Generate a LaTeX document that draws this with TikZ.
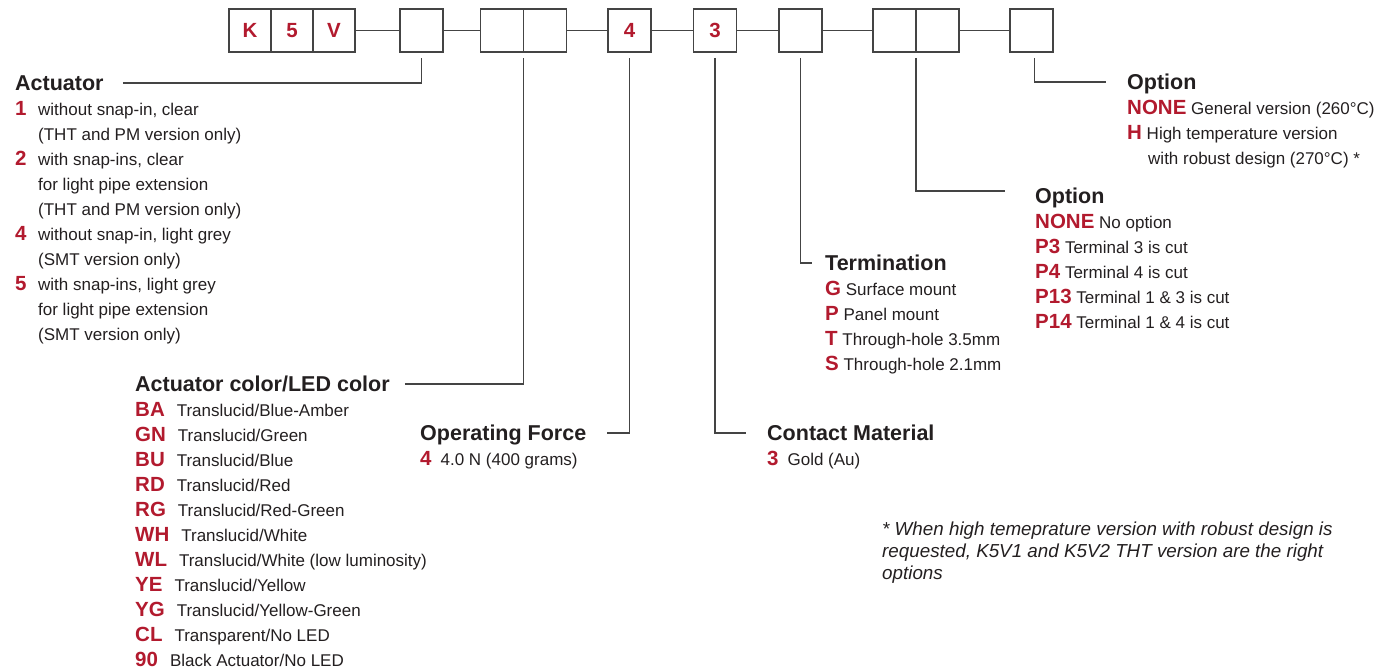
\documentclass[tikz,border=0pt]{standalone}
\usepackage{fontspec}
\setmainfont{Liberation Sans}
\usepackage{tikz}
\usetikzlibrary{positioning}
\definecolor{codered}{RGB}{178,26,46}
\definecolor{ink}{RGB}{35,31,32}
\definecolor{wire}{RGB}{68,68,68}
\newcommand{\cd}[1]{{\color{codered}\bfseries\fontsize{20.5}{25}\selectfont #1}}
\newcommand{\col}[1]{\makebox[23pt][l]{\cd{#1}}}
\tikzset{
  cell/.style   = {rectangle, draw=wire, line width=1.3pt, outer sep=0pt, inner sep=0pt,
                   minimum width=43pt, minimum height=43pt, text=codered,
                   font=\bfseries\fontsize{20.5}{24}\selectfont},
  head/.style   = {anchor=base west, inner sep=0pt, text height=15pt, text depth=0pt,
                   text=ink, font=\bfseries\fontsize{21.5}{25}\selectfont},
  list/.style   = {anchor=north west, inner sep=0pt, align=left, text=ink,
                   font=\fontsize{17}{25}\selectfont},
  note/.style   = {anchor=north west, inner sep=0pt, align=left, text=ink,
                   font=\itshape\fontsize{18.8}{22}\selectfont},
  link/.style   = {draw=wire, line width=1.2pt},
  leader/.style = {draw=wire, line width=1.2pt}
}
\begin{document}
\begin{tikzpicture}[x=1pt, y=-1pt]
	\useasboundingbox (0,0) rectangle (1388,671);

	% Part number boxes
	\node [cell, minimum width=42pt]                  (k)       at (250,30.5) {K};
	\node [cell, minimum width=42pt, right=0pt of k]  (five)    {5};
	\node [cell, minimum width=42pt, right=0pt of five] (v)     {V};
	\node [cell, right=45pt of v]                     (act)     {};
	\node [cell, right=37.5pt of act]                 (ledA)    {};
	\node [cell, right=0pt of ledA]                   (ledB)    {};
	\node [cell, right=41.5pt of ledB]                (force)   {4};
	\node [cell, right=42.5pt of force]               (contact) {3};
	\node [cell, right=42.5pt of contact]             (term)    {};
	\node [cell, right=51pt of term]                  (pinA)    {};
	\node [cell, right=0pt of pinA]                   (pinB)    {};
	\node [cell, right=51pt of pinB]                  (temp)    {};

	% Links between boxes
	\path [link] (v)       -- (act);
	\path [link] (act)     -- (ledA);
	\path [link] (ledB)    -- (force);
	\path [link] (force)   -- (contact);
	\path [link] (contact) -- (term);
	\path [link] (term)    -- (pinA);
	\path [link] (pinB)    -- (temp);

	% Headings
	\node [head] (acthead)   at (15,90.5)    {Actuator};
	\node [head] (ledhead)   at (135,391.5)  {Actuator color/LED color};
	\node [head] (forcehead) at (420,440.5)  {Operating Force};
	\node [head] (conthead)  at (767,440.5)  {Contact Material};
	\node [head] (termhead)  at (825,270.5)  {Termination};
	\node [head] (pinhead)   at (1035,203.5) {Option};
	\node [head] (temphead)  at (1127,89.5)  {Option};

	% Lists
	\node [list] (actlist) at ([yshift=-7.5pt]acthead.base west) {\strut\col{1}without snap-in, clear\\
		\col{}(THT and PM version only)\\
		\col{2}with snap-ins, clear\\
		\col{}for light pipe extension\\
		\col{}(THT and PM version only)\\
		\col{4}without snap-in, light grey\\
		\col{}(SMT version only)\\
		\col{5}with snap-ins, light grey\\
		\col{}for light pipe extension\\
		\col{}(SMT version only)};
	\node [list] (ledlist) at ([yshift=-7.5pt]ledhead.base west) {\strut\cd{BA}\hspace{12pt}Translucid/Blue-Amber\\
		\cd{GN}\hspace{12pt}Translucid/Green\\
		\cd{BU}\hspace{12pt}Translucid/Blue\\
		\cd{RD}\hspace{12pt}Translucid/Red\\
		\cd{RG}\hspace{12pt}Translucid/Red-Green\\
		\cd{WH}\hspace{12pt}Translucid/White\\
		\cd{WL}\hspace{12pt}Translucid/White (low luminosity)\\
		\cd{YE}\hspace{12pt}Translucid/Yellow\\
		\cd{YG}\hspace{12pt}Translucid/Yellow-Green\\
		\cd{CL}\hspace{12pt}Transparent/No LED\\
		\cd{90}\hspace{12pt}Black Actuator/No LED};
	\node [list] (forcelist) at ([yshift=-7.5pt]forcehead.base west) {\strut\cd{4}\hspace{9pt}4.0 N (400 grams)};
	\node [list] (contlist)  at ([yshift=-7.5pt]conthead.base west)  {\strut\cd{3}\hspace{9pt}Gold (Au)};
	\node [list] (termlist)  at ([yshift=-7.5pt]termhead.base west)  {\strut\cd{G} Surface mount\\
		\cd{P} Panel mount\\
		\cd{T} Through-hole 3.5mm\\
		\cd{S} Through-hole 2.1mm};
	\node [list] (pinlist)   at ([yshift=-7.5pt]pinhead.base west)   {\strut\cd{NONE} No option\\
		\cd{P3} Terminal 3 is cut\\
		\cd{P4} Terminal 4 is cut\\
		\cd{P13} Terminal 1 \& 3 is cut\\
		\cd{P14} Terminal 1 \& 4 is cut};
	\node [list] (templist)  at ([yshift=-7.5pt]temphead.base west)  {\strut\cd{NONE} General version (260°C)\\
		\cd{H} High temperature version\\
		\hspace*{21pt}with robust design (270°C) *};

	% Footnote
	\node [note] (footnote) at (882,519.6) {\strut* When high temeprature version with robust design is\\
		requested, K5V1 and K5V2 THT version are the right\\
		options};

	% Leaders
	\path [leader] ([xshift=19pt]acthead.east)   -| ([yshift=-6pt]act.south);
	\path [leader] ([xshift=15pt]ledhead.east)   -| ([yshift=-6pt]ledA.south east);
	\path [leader] ([xshift=21pt]forcehead.east) -| ([yshift=-6pt]force.south);
	\path [leader] ([yshift=-6pt]contact.south)  |- ([xshift=-21pt]conthead.west);
	\path [leader] ([yshift=-6pt]term.south)     |- ([xshift=-13pt]termhead.west);
	\path [leader] ([yshift=-6pt]pinA.south east) |- ([xshift=-30pt,yshift=5pt]pinhead.west);
	\path [leader] ([xshift=3pt,yshift=-6pt]temp.south) |- ([xshift=-21pt]temphead.west);

\end{tikzpicture}
\end{document}
